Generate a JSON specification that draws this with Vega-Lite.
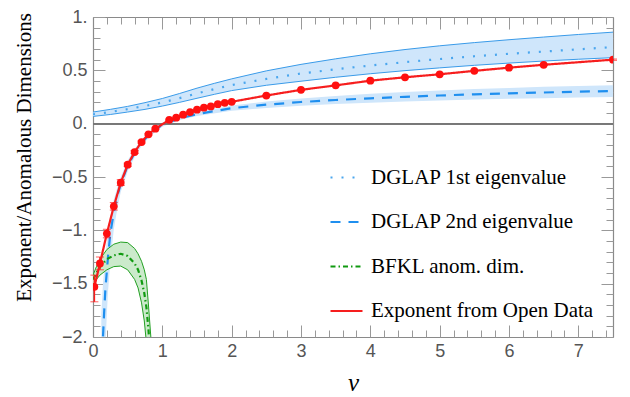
{
  "$schema": "https://vega.github.io/schema/vega-lite/v6.json",
  "width": 520,
  "height": 320,
  "autosize": {"type": "none"},
  "padding": {"left": 93, "top": 17, "right": 17, "bottom": 60},
  "background": "white",
  "config": {"view": {"stroke": null}, "axis": {"grid": false}},
  "datasets": {
    "curves": [
      {"s": "DGLAP 1st eigenvalue", "nu": 0, "lo": 0.068, "mid": 0.088, "hi": 0.109},
      {"s": "DGLAP 1st eigenvalue", "nu": 0.25, "lo": 0.086, "mid": 0.11, "hi": 0.134},
      {"s": "DGLAP 1st eigenvalue", "nu": 0.5, "lo": 0.109, "mid": 0.136, "hi": 0.162},
      {"s": "DGLAP 1st eigenvalue", "nu": 0.75, "lo": 0.134, "mid": 0.166, "hi": 0.197},
      {"s": "DGLAP 1st eigenvalue", "nu": 1.0, "lo": 0.165, "mid": 0.199, "hi": 0.236},
      {"s": "DGLAP 1st eigenvalue", "nu": 1.25, "lo": 0.2, "mid": 0.24, "hi": 0.283},
      {"s": "DGLAP 1st eigenvalue", "nu": 1.5, "lo": 0.238, "mid": 0.283, "hi": 0.333},
      {"s": "DGLAP 1st eigenvalue", "nu": 1.75, "lo": 0.275, "mid": 0.324, "hi": 0.378},
      {"s": "DGLAP 1st eigenvalue", "nu": 2.0, "lo": 0.31, "mid": 0.362, "hi": 0.42},
      {"s": "DGLAP 1st eigenvalue", "nu": 2.5, "lo": 0.36, "mid": 0.42, "hi": 0.495},
      {"s": "DGLAP 1st eigenvalue", "nu": 3.0, "lo": 0.398, "mid": 0.47, "hi": 0.556},
      {"s": "DGLAP 1st eigenvalue", "nu": 3.5, "lo": 0.435, "mid": 0.51, "hi": 0.608},
      {"s": "DGLAP 1st eigenvalue", "nu": 4.0, "lo": 0.468, "mid": 0.545, "hi": 0.655},
      {"s": "DGLAP 1st eigenvalue", "nu": 4.5, "lo": 0.497, "mid": 0.577, "hi": 0.695},
      {"s": "DGLAP 1st eigenvalue", "nu": 5.0, "lo": 0.523, "mid": 0.606, "hi": 0.73},
      {"s": "DGLAP 1st eigenvalue", "nu": 5.5, "lo": 0.547, "mid": 0.632, "hi": 0.76},
      {"s": "DGLAP 1st eigenvalue", "nu": 6.0, "lo": 0.568, "mid": 0.655, "hi": 0.787},
      {"s": "DGLAP 1st eigenvalue", "nu": 6.5, "lo": 0.587, "mid": 0.676, "hi": 0.812},
      {"s": "DGLAP 1st eigenvalue", "nu": 7.0, "lo": 0.604, "mid": 0.697, "hi": 0.836},
      {"s": "DGLAP 1st eigenvalue", "nu": 7.5, "lo": 0.619, "mid": 0.718, "hi": 0.858},

      {"s": "DGLAP 2nd eigenvalue", "nu": 0.12, "lo": -4.0, "mid": -2.5, "hi": -1.78},
      {"s": "DGLAP 2nd eigenvalue", "nu": 0.144, "lo": -3.0, "mid": -2.0, "hi": -1.5},
      {"s": "DGLAP 2nd eigenvalue", "nu": 0.16, "lo": -2.5, "mid": -1.78, "hi": -1.38},
      {"s": "DGLAP 2nd eigenvalue", "nu": 0.178, "lo": -2.1, "mid": -1.56, "hi": -1.24},
      {"s": "DGLAP 2nd eigenvalue", "nu": 0.2, "lo": -1.78, "mid": -1.38, "hi": -1.09},
      {"s": "DGLAP 2nd eigenvalue", "nu": 0.216, "lo": -1.58, "mid": -1.25, "hi": -1.0},
      {"s": "DGLAP 2nd eigenvalue", "nu": 0.25, "lo": -1.3, "mid": -1.03, "hi": -0.87},
      {"s": "DGLAP 2nd eigenvalue", "nu": 0.3, "lo": -0.99, "mid": -0.83, "hi": -0.71},
      {"s": "DGLAP 2nd eigenvalue", "nu": 0.35, "lo": -0.8, "mid": -0.68, "hi": -0.6},
      {"s": "DGLAP 2nd eigenvalue", "nu": 0.4, "lo": -0.64, "mid": -0.565, "hi": -0.5},
      {"s": "DGLAP 2nd eigenvalue", "nu": 0.5, "lo": -0.445, "mid": -0.395, "hi": -0.345},
      {"s": "DGLAP 2nd eigenvalue", "nu": 0.6, "lo": -0.315, "mid": -0.275, "hi": -0.235},
      {"s": "DGLAP 2nd eigenvalue", "nu": 0.7, "lo": -0.21, "mid": -0.18, "hi": -0.15},
      {"s": "DGLAP 2nd eigenvalue", "nu": 0.8, "lo": -0.135, "mid": -0.11, "hi": -0.085},
      {"s": "DGLAP 2nd eigenvalue", "nu": 0.9, "lo": -0.075, "mid": -0.055, "hi": -0.035},
      {"s": "DGLAP 2nd eigenvalue", "nu": 1.0, "lo": -0.028, "mid": -0.01, "hi": 0.008},
      {"s": "DGLAP 2nd eigenvalue", "nu": 1.25, "lo": 0.034, "mid": 0.05, "hi": 0.066},
      {"s": "DGLAP 2nd eigenvalue", "nu": 1.5, "lo": 0.072, "mid": 0.09, "hi": 0.108},
      {"s": "DGLAP 2nd eigenvalue", "nu": 2.0, "lo": 0.12, "mid": 0.145, "hi": 0.17},
      {"s": "DGLAP 2nd eigenvalue", "nu": 2.5, "lo": 0.148, "mid": 0.178, "hi": 0.208},
      {"s": "DGLAP 2nd eigenvalue", "nu": 3.0, "lo": 0.169, "mid": 0.203, "hi": 0.237},
      {"s": "DGLAP 2nd eigenvalue", "nu": 3.5, "lo": 0.184, "mid": 0.222, "hi": 0.26},
      {"s": "DGLAP 2nd eigenvalue", "nu": 4.0, "lo": 0.196, "mid": 0.238, "hi": 0.28},
      {"s": "DGLAP 2nd eigenvalue", "nu": 4.5, "lo": 0.207, "mid": 0.252, "hi": 0.297},
      {"s": "DGLAP 2nd eigenvalue", "nu": 5.0, "lo": 0.217, "mid": 0.264, "hi": 0.311},
      {"s": "DGLAP 2nd eigenvalue", "nu": 5.5, "lo": 0.226, "mid": 0.275, "hi": 0.324},
      {"s": "DGLAP 2nd eigenvalue", "nu": 6.0, "lo": 0.233, "mid": 0.284, "hi": 0.335},
      {"s": "DGLAP 2nd eigenvalue", "nu": 6.5, "lo": 0.239, "mid": 0.292, "hi": 0.345},
      {"s": "DGLAP 2nd eigenvalue", "nu": 7.0, "lo": 0.246, "mid": 0.3, "hi": 0.354},
      {"s": "DGLAP 2nd eigenvalue", "nu": 7.5, "lo": 0.251, "mid": 0.306, "hi": 0.361},

      {"s": "BFKL anom. dim.", "nu": 0, "lo": -1.51, "mid": -1.46, "hi": -1.42},
      {"s": "BFKL anom. dim.", "nu": 0.05, "lo": -1.46, "mid": -1.4, "hi": -1.34},
      {"s": "BFKL anom. dim.", "nu": 0.1, "lo": -1.42, "mid": -1.345, "hi": -1.27},
      {"s": "BFKL anom. dim.", "nu": 0.2, "lo": -1.37, "mid": -1.27, "hi": -1.18},
      {"s": "BFKL anom. dim.", "nu": 0.3, "lo": -1.34, "mid": -1.235, "hi": -1.13},
      {"s": "BFKL anom. dim.", "nu": 0.4, "lo": -1.335, "mid": -1.22, "hi": -1.11},
      {"s": "BFKL anom. dim.", "nu": 0.5, "lo": -1.37, "mid": -1.24, "hi": -1.115},
      {"s": "BFKL anom. dim.", "nu": 0.6, "lo": -1.46, "mid": -1.31, "hi": -1.17},
      {"s": "BFKL anom. dim.", "nu": 0.65, "lo": -1.54, "mid": -1.37, "hi": -1.22},
      {"s": "BFKL anom. dim.", "nu": 0.7, "lo": -1.68, "mid": -1.47, "hi": -1.29},
      {"s": "BFKL anom. dim.", "nu": 0.74, "lo": -1.85, "mid": -1.59, "hi": -1.37},
      {"s": "BFKL anom. dim.", "nu": 0.77, "lo": -2.05, "mid": -1.72, "hi": -1.46},
      {"s": "BFKL anom. dim.", "nu": 0.8, "lo": -2.3, "mid": -1.93, "hi": -1.7},
      {"s": "BFKL anom. dim.", "nu": 0.84, "lo": -2.6, "mid": -2.3, "hi": -2.05},

      {"s": "Exponent from Open Data", "nu": 0.02, "lo": -1.67, "mid": -1.53, "hi": -1.42},
      {"s": "Exponent from Open Data", "nu": 0.1, "lo": -1.37, "mid": -1.31, "hi": -1.25},
      {"s": "Exponent from Open Data", "nu": 0.2, "lo": -1.07, "mid": -1.03, "hi": -0.99},
      {"s": "Exponent from Open Data", "nu": 0.3, "lo": -0.81, "mid": -0.775, "hi": -0.74},
      {"s": "Exponent from Open Data", "nu": 0.4, "lo": -0.58, "mid": -0.553, "hi": -0.525},
      {"s": "Exponent from Open Data", "nu": 0.5, "lo": -0.4, "mid": -0.385, "hi": -0.37},
      {"s": "Exponent from Open Data", "nu": 0.6, "lo": -0.28, "mid": -0.266, "hi": -0.252},
      {"s": "Exponent from Open Data", "nu": 0.7, "lo": -0.182, "mid": -0.172, "hi": -0.162},
      {"s": "Exponent from Open Data", "nu": 0.8, "lo": -0.108, "mid": -0.1, "hi": -0.092},
      {"s": "Exponent from Open Data", "nu": 0.9, "lo": -0.054, "mid": -0.047, "hi": -0.04},
      {"s": "Exponent from Open Data", "nu": 1.1, "lo": 0.03, "mid": 0.036, "hi": 0.042},
      {"s": "Exponent from Open Data", "nu": 1.2, "lo": 0.05, "mid": 0.056, "hi": 0.062},
      {"s": "Exponent from Open Data", "nu": 1.3, "lo": 0.078, "mid": 0.084, "hi": 0.09},
      {"s": "Exponent from Open Data", "nu": 1.4, "lo": 0.103, "mid": 0.109, "hi": 0.115},
      {"s": "Exponent from Open Data", "nu": 1.5, "lo": 0.125, "mid": 0.131, "hi": 0.137},
      {"s": "Exponent from Open Data", "nu": 1.6, "lo": 0.144, "mid": 0.15, "hi": 0.156},
      {"s": "Exponent from Open Data", "nu": 1.7, "lo": 0.156, "mid": 0.162, "hi": 0.168},
      {"s": "Exponent from Open Data", "nu": 1.8, "lo": 0.177, "mid": 0.183, "hi": 0.189},
      {"s": "Exponent from Open Data", "nu": 1.9, "lo": 0.19, "mid": 0.196, "hi": 0.202},
      {"s": "Exponent from Open Data", "nu": 2.0, "lo": 0.199, "mid": 0.205, "hi": 0.211},
      {"s": "Exponent from Open Data", "nu": 2.5, "lo": 0.258, "mid": 0.264, "hi": 0.27},
      {"s": "Exponent from Open Data", "nu": 3.0, "lo": 0.311, "mid": 0.317, "hi": 0.323},
      {"s": "Exponent from Open Data", "nu": 3.5, "lo": 0.353, "mid": 0.359, "hi": 0.365},
      {"s": "Exponent from Open Data", "nu": 4.0, "lo": 0.397, "mid": 0.403, "hi": 0.409},
      {"s": "Exponent from Open Data", "nu": 4.5, "lo": 0.429, "mid": 0.435, "hi": 0.441},
      {"s": "Exponent from Open Data", "nu": 5.0, "lo": 0.457, "mid": 0.463, "hi": 0.469},
      {"s": "Exponent from Open Data", "nu": 5.5, "lo": 0.489, "mid": 0.495, "hi": 0.501},
      {"s": "Exponent from Open Data", "nu": 6.0, "lo": 0.519, "mid": 0.525, "hi": 0.531},
      {"s": "Exponent from Open Data", "nu": 6.5, "lo": 0.546, "mid": 0.552, "hi": 0.558},
      {"s": "Exponent from Open Data", "nu": 7.5, "lo": 0.594, "mid": 0.6, "hi": 0.606}
    ]
  },
  "data": {"name": "curves"},
  "resolve": {"axis": {"x": "independent", "y": "independent"}},
  "layer": [
    {
      "transform": [{"filter": "datum.s == 'DGLAP 1st eigenvalue'"}],
      "mark": {"type": "area", "color": "#cfe6fb", "opacity": 1, "clip": true},
      "encoding": {
        "x": {"field": "nu", "type": "quantitative", "scale": {"domain": [0, 7.5], "nice": false, "zero": false},
          "axis": {"orient": "bottom", "values": [0, 1, 2, 3, 4, 5, 6, 7], "ticks": false, "domain": true, "domainColor": "#8a8a8a", "domainWidth": 1.2,
            "labels": true, "labelFont": "Liberation Sans", "labelFontSize": 18, "labelColor": "#555555", "labelPadding": 5, "labelFlush": false, "labelOverlap": false,
            "title": "ν", "titleFont": "Liberation Serif", "titleFontStyle": "italic", "titleFontSize": 25, "titleFontWeight": "normal", "titleColor": "black", "titleY": 53, "titleBaseline": "alphabetic"}},
        "y": {"field": "lo", "type": "quantitative", "scale": {"domain": [-2, 1], "nice": false, "zero": false},
          "axis": {"orient": "left", "values": [-2, -1.5, -1, -0.5, 0, 0.5, 1], "ticks": false, "domain": true, "domainColor": "#8a8a8a", "domainWidth": 1.2,
            "labels": true, "labelFont": "Liberation Sans", "labelFontSize": 18, "labelColor": "#555555", "labelPadding": 6, "labelFlush": false, "labelOverlap": false,
            "labelExpr": "replace(format(datum.value, '.1f'), '.0', '.')",
            "title": "Exponent/Anomalous Dimensions", "titleFont": "Liberation Serif", "titleFontSize": 21, "titleFontWeight": "normal", "titleColor": "black",
            "titleX": -63, "titleY": 140, "titleBaseline": "alphabetic", "titleAngle": 270}},
        "y2": {"field": "hi"}
      }
    },
    {
      "transform": [{"filter": "datum.s == 'DGLAP 2nd eigenvalue'"}],
      "mark": {"type": "area", "color": "#cfe6fb", "opacity": 1, "clip": true},
      "encoding": {
        "x": {"field": "nu", "type": "quantitative",
          "axis": {"orient": "bottom", "values": [0, 1, 2, 3, 4, 5, 6, 7], "ticks": true, "tickSize": -12, "tickColor": "#999999", "tickWidth": 1, "labels": false, "domain": false, "title": null}},
        "y": {"field": "lo", "type": "quantitative",
          "axis": {"orient": "left", "values": [-2, -1.5, -1, -0.5, 0, 0.5, 1], "ticks": true, "tickSize": -12, "tickColor": "#999999", "tickWidth": 1, "labels": false, "domain": false, "title": null}},
        "y2": {"field": "hi"}
      }
    },
    {
      "transform": [{"filter": "datum.s == 'BFKL anom. dim.'"}],
      "mark": {"type": "area", "color": "#cbeacb", "opacity": 1, "clip": true},
      "encoding": {
        "x": {"field": "nu", "type": "quantitative",
          "axis": {"orient": "bottom", "values": [0.2, 0.4, 0.6, 0.8, 1.2, 1.4, 1.6, 1.8, 2.2, 2.4, 2.6, 2.8, 3.2, 3.4, 3.6, 3.8, 4.2, 4.4, 4.6, 4.8, 5.2, 5.4, 5.6, 5.8, 6.2, 6.4, 6.6, 6.8, 7.2, 7.4], "ticks": true, "tickSize": -7, "tickColor": "#999999", "tickWidth": 1, "labels": false, "domain": false, "title": null}},
        "y": {"field": "lo", "type": "quantitative",
          "axis": {"orient": "left", "values": [-1.9, -1.8, -1.7, -1.6, -1.4, -1.3, -1.2, -1.1, -0.9, -0.8, -0.7, -0.6, -0.4, -0.3, -0.2, -0.1, 0.1, 0.2, 0.3, 0.4, 0.6, 0.7, 0.8, 0.9], "ticks": true, "tickSize": -7, "tickColor": "#999999", "tickWidth": 1, "labels": false, "domain": false, "title": null}},
        "y2": {"field": "hi"}
      }
    },
    {
      "transform": [{"filter": "datum.s == 'DGLAP 1st eigenvalue'"}],
      "mark": {"type": "line", "color": "#3a9be9", "strokeWidth": 1, "clip": true},
      "encoding": {
        "x": {"field": "nu", "type": "quantitative",
          "axis": {"orient": "top", "values": [0, 1, 2, 3, 4, 5, 6, 7], "ticks": true, "tickSize": -12, "tickColor": "#999999", "tickWidth": 1, "labels": false, "domain": true, "domainColor": "#8a8a8a", "domainWidth": 1.2, "title": null}},
        "y": {"field": "lo", "type": "quantitative",
          "axis": {"orient": "right", "values": [-2, -1.5, -1, -0.5, 0, 0.5, 1], "ticks": true, "tickSize": -12, "tickColor": "#999999", "tickWidth": 1, "labels": false, "domain": true, "domainColor": "#8a8a8a", "domainWidth": 1.2, "title": null}}
      }
    },
    {
      "transform": [{"filter": "datum.s == 'DGLAP 1st eigenvalue'"}],
      "mark": {"type": "line", "color": "#3a9be9", "strokeWidth": 1, "clip": true},
      "encoding": {
        "x": {"field": "nu", "type": "quantitative",
          "axis": {"orient": "top", "values": [0.2, 0.4, 0.6, 0.8, 1.2, 1.4, 1.6, 1.8, 2.2, 2.4, 2.6, 2.8, 3.2, 3.4, 3.6, 3.8, 4.2, 4.4, 4.6, 4.8, 5.2, 5.4, 5.6, 5.8, 6.2, 6.4, 6.6, 6.8, 7.2, 7.4], "ticks": true, "tickSize": -7, "tickColor": "#999999", "tickWidth": 1, "labels": false, "domain": false, "title": null}},
        "y": {"field": "hi", "type": "quantitative",
          "axis": {"orient": "right", "values": [-1.9, -1.8, -1.7, -1.6, -1.4, -1.3, -1.2, -1.1, -0.9, -0.8, -0.7, -0.6, -0.4, -0.3, -0.2, -0.1, 0.1, 0.2, 0.3, 0.4, 0.6, 0.7, 0.8, 0.9], "ticks": true, "tickSize": -7, "tickColor": "#999999", "tickWidth": 1, "labels": false, "domain": false, "title": null}}
      }
    },
    {
      "transform": [{"filter": "datum.s == 'BFKL anom. dim.'"}],
      "mark": {"type": "line", "color": "#22a022", "strokeWidth": 1, "clip": true},
      "encoding": {
        "x": {"field": "nu", "type": "quantitative", "axis": null},
        "y": {"field": "lo", "type": "quantitative", "axis": null}
      }
    },
    {
      "transform": [{"filter": "datum.s == 'BFKL anom. dim.'"}],
      "mark": {"type": "line", "color": "#22a022", "strokeWidth": 1, "clip": true},
      "encoding": {
        "x": {"field": "nu", "type": "quantitative", "axis": null},
        "y": {"field": "hi", "type": "quantitative", "axis": null}
      }
    },
    {
      "mark": {"type": "rule", "color": "#777777", "strokeWidth": 1},
      "encoding": {"y": {"datum": 0, "type": "quantitative", "axis": null}}
    },
    {
      "mark": {"type": "line", "strokeWidth": 2.2, "clip": true},
      "encoding": {
        "x": {"field": "nu", "type": "quantitative", "axis": null},
        "y": {"field": "mid", "type": "quantitative", "axis": null},
        "color": {"field": "s", "type": "nominal",
          "scale": {"domain": ["DGLAP 1st eigenvalue", "DGLAP 2nd eigenvalue", "BFKL anom. dim.", "Exponent from Open Data"], "range": ["#4aa6ee", "#1f8fef", "#109a10", "#f61e1e"]},
          "legend": {"orient": "none", "legendX": 236, "legendY": 143, "title": null, "padding": 0, "symbolType": "stroke", "symbolSize": 1024, "symbolStrokeWidth": 2.2,
            "labelFont": "Liberation Serif", "labelFontSize": 21, "labelColor": "black", "labelOffset": 7, "labelLimit": 0, "rowPadding": 16.5, "direction": "vertical"}},
        "strokeDash": {"field": "s", "type": "nominal",
          "scale": {"domain": ["DGLAP 1st eigenvalue", "DGLAP 2nd eigenvalue", "BFKL anom. dim.", "Exponent from Open Data"], "range": [[2, 9], [10, 8], [5, 3, 1.5, 3], [1, 0]]},
          "legend": {"orient": "none", "legendX": 236, "legendY": 143, "title": null, "padding": 0, "symbolType": "stroke", "symbolSize": 1024, "symbolStrokeWidth": 2.2,
            "labelFont": "Liberation Serif", "labelFontSize": 21, "labelColor": "black", "labelOffset": 7, "labelLimit": 0, "rowPadding": 16.5, "direction": "vertical"}}
      }
    },
    {
      "transform": [{"filter": "datum.s == 'Exponent from Open Data'"}],
      "mark": {"type": "errorbar", "ticks": {"color": "#ff1a1a", "size": 8}, "rule": {"color": "#ff1a1a", "strokeWidth": 1.5}},
      "encoding": {
        "x": {"field": "nu", "type": "quantitative", "axis": null},
        "y": {"field": "lo", "type": "quantitative", "axis": null},
        "y2": {"field": "hi"}
      }
    },
    {
      "transform": [{"filter": "datum.s == 'Exponent from Open Data'"}],
      "mark": {"type": "circle", "color": "#ff1010", "opacity": 1, "size": 60, "clip": true},
      "encoding": {
        "x": {"field": "nu", "type": "quantitative", "axis": null},
        "y": {"field": "mid", "type": "quantitative", "axis": null}
      }
    }
  ]
}
